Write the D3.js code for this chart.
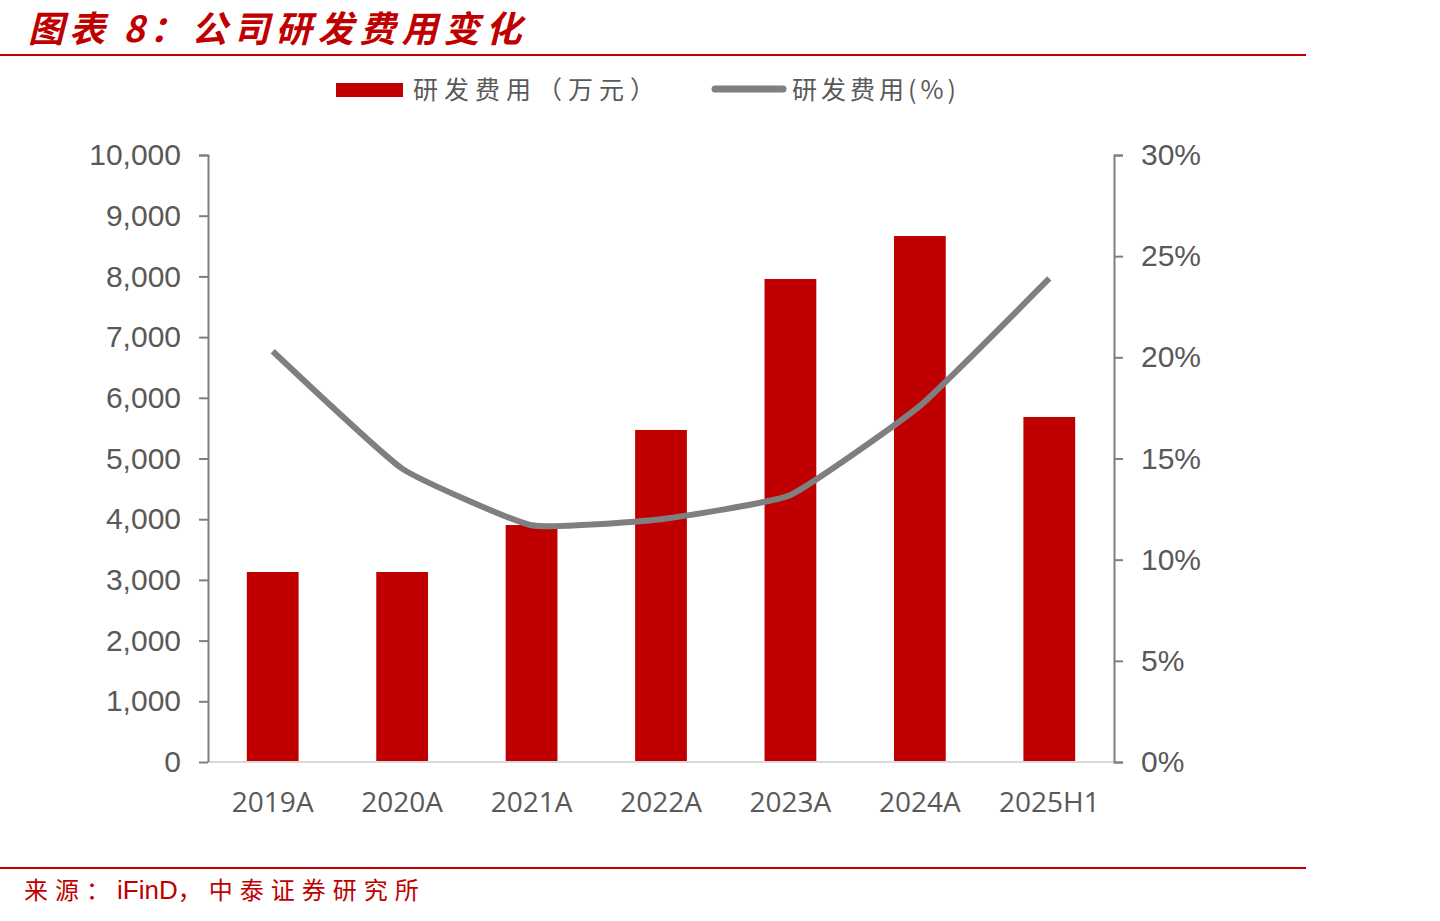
<!DOCTYPE html>
<html>
<head>
<meta charset="utf-8">
<script src="https://cdn.jsdelivr.net/npm/d3@7"></script>
<style>
  body { margin: 0; background: #fff; }
  svg { display: block; }
</style>
</head>
<body>
<svg id="chart" width="1440" height="921"></svg>
<script>
// data
var categories = ["2019A", "2020A", "2021A", "2022A", "2023A", "2024A", "2025H1"];
var rdExpense = [3130, 3130, 3904, 5470, 7957, 8665, 5684];     // 万元
var rdRatio = [20.3, 14.5, 11.7, 12.0, 13.2, 17.6, 23.9];        // %
var leftTicks = [0, 1000, 2000, 3000, 4000, 5000, 6000, 7000, 8000, 9000, 10000];
var rightTicks = [0, 5, 10, 15, 20, 25, 30];

var red = "#c00000", gray = "#7f7f7f", textGray = "#595959";
var cjk = "'Noto Sans CJK SC', sans-serif";
var num = "'Liberation Sans', Arial, sans-serif";

var svg = d3.select("#chart");

var margin = {left: 208, right: 1440 - 1114, top: 155, bottom: 921 - 762};
var width = 1440 - margin.left - margin.right,
    height = 921 - margin.top - margin.bottom;

// title + rules
var title = svg.append("text")
  .attr("x", 28).attr("y", 42)
  .attr("fill", red)
  .style("font-family", cjk)
  .style("font-size", "36px")
  .style("font-style", "italic")
  .style("font-weight", "bold");
title.append("tspan").style("letter-spacing", "5px").text("图表 8");
title.append("tspan").style("letter-spacing", "6px").text("：公司研发费用变化");

svg.append("line")
  .attr("x1", 0).attr("x2", 1306).attr("y1", 55).attr("y2", 55)
  .attr("stroke", red).attr("stroke-width", 2);

svg.append("line")
  .attr("x1", 0).attr("x2", 1306).attr("y1", 868).attr("y2", 868)
  .attr("stroke", red).attr("stroke-width", 2);

var source = svg.append("text")
  .attr("x", 24).attr("y", 899)
  .attr("fill", red)
  .style("font-family", cjk)
  .style("font-size", "24px");
source.append("tspan").style("letter-spacing", "7px").text("来源：");
source.append("tspan").style("font-family", num).style("font-size", "26px").text("iFinD");
source.append("tspan").style("letter-spacing", "7px").text("，中泰证券研究所");

// legend
var legend = svg.append("g");
legend.append("rect")
  .attr("x", 336).attr("y", 83).attr("width", 67).attr("height", 14)
  .attr("fill", red);
legend.append("text")
  .attr("x", 413).attr("y", 99)
  .attr("fill", textGray)
  .style("font-family", cjk).style("font-size", "25px")
  .style("letter-spacing", "6px")
  .text("研发费用（万元）");
legend.append("line")
  .attr("x1", 715).attr("x2", 783).attr("y1", 89).attr("y2", 89)
  .attr("stroke", gray).attr("stroke-width", 7).attr("stroke-linecap", "round");
legend.append("text")
  .attr("x", 792).attr("y", 99)
  .attr("fill", textGray)
  .style("font-family", cjk).style("font-size", "25px")
  .style("letter-spacing", "4px")
  .text("研发费用(%)");

var g = svg.append("g")
  .attr("transform", "translate(" + margin.left + "," + margin.top + ")");

var x = d3.scaleBand()
  .domain(categories)
  .range([0, width])
  .paddingInner(0.6)
  .paddingOuter(0.3);

var y = d3.scaleLinear().domain([0, 10000]).range([height, 0]);
var y2 = d3.scaleLinear().domain([0, 30]).range([height, 0]);

// bars
g.selectAll("rect.bar")
  .data(rdExpense)
  .enter().append("rect")
  .attr("class", "bar")
  .attr("x", (d, i) => x(categories[i]))
  .attr("width", x.bandwidth())
  .attr("y", d => y(d))
  .attr("height", d => height - y(d))
  .attr("fill", red);

// baseline
g.append("line")
  .attr("x1", 0).attr("x2", width)
  .attr("y1", height).attr("y2", height)
  .attr("stroke", "#d9d9d9").attr("stroke-width", 2);

// ratio line
var line = d3.line()
  .x((d, i) => x(categories[i]) + x.bandwidth() / 2)
  .y(d => y2(d))
  .curve(d3.curveCardinal.tension(0.6));

g.append("path")
  .datum(rdRatio)
  .attr("d", line)
  .attr("fill", "none")
  .attr("stroke", gray)
  .attr("stroke-width", 6)
  .attr("stroke-linejoin", "round");

// left axis
var yAxis = d3.axisLeft(y)
  .tickValues(leftTicks)
  .tickSize(9)
  .tickPadding(18)
  .tickFormat(d3.format(","));

var gy = g.append("g").call(yAxis);
gy.select(".domain").attr("stroke", gray).attr("stroke-width", 2).attr("d", "M-9,0.5H0.5V" + height);
gy.selectAll(".tick line").attr("stroke", gray).attr("stroke-width", 2);
gy.selectAll(".tick text")
  .attr("fill", textGray)
  .style("font-family", num)
  .style("font-size", "30px");

// right axis
var y2Axis = d3.axisRight(y2)
  .tickValues(rightTicks)
  .tickSize(9)
  .tickPadding(18)
  .tickFormat(d => d + "%");

var gy2 = g.append("g")
  .attr("transform", "translate(" + width + ",0)")
  .call(y2Axis);
gy2.select(".domain").attr("stroke", gray).attr("stroke-width", 2);
gy2.selectAll(".tick line").attr("stroke", gray).attr("stroke-width", 2);
gy2.selectAll(".tick text")
  .attr("fill", textGray)
  .style("font-family", num)
  .style("font-size", "30px");

// category labels
var xAxis = d3.axisBottom(x).tickSize(0).tickPadding(30);
var gx = g.append("g")
  .attr("transform", "translate(0," + height + ")")
  .call(xAxis);
gx.select(".domain").remove();
gx.selectAll(".tick text")
  .attr("fill", textGray)
  .style("font-family", "'Liberation Sans Narrow', 'Open Sans', sans-serif")
  .style("font-size", "28px");
</script>
</body>
</html>
